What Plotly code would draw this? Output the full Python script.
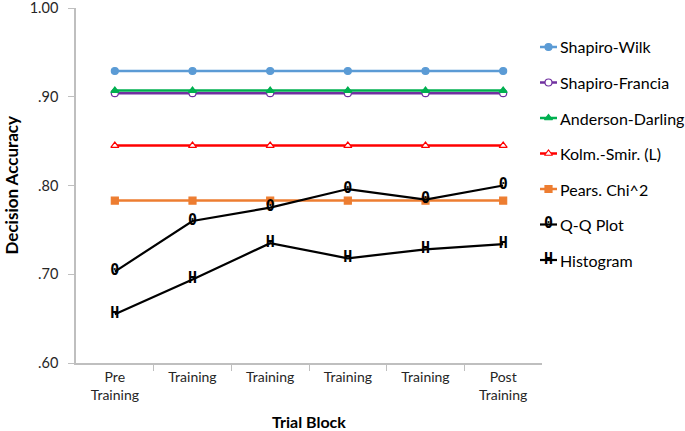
import plotly.graph_objects as go

categories = ["Pre<br>Training", "Training", "Training", "Training", "Training", "Post<br>Training"]
x_pos = [0, 1, 2, 3, 4, 5]

shapiro_wilk = [0.929, 0.929, 0.929, 0.929, 0.929, 0.929]
shapiro_francia = [0.904, 0.904, 0.904, 0.904, 0.904, 0.904]
anderson_darling = [0.907, 0.907, 0.907, 0.907, 0.907, 0.907]
kolm_smir = [0.845, 0.845, 0.845, 0.845, 0.845, 0.845]
pears_chi2 = [0.783, 0.783, 0.783, 0.783, 0.783, 0.783]
qq_plot = [0.703, 0.760, 0.775, 0.796, 0.784, 0.800]
histogram = [0.655, 0.694, 0.735, 0.718, 0.728, 0.734]

y_ticks = [0.6, 0.7, 0.8, 0.9, 1.0]
y_ticktext = [".60", ".70", ".80", ".90", "1.00"]

FONT = "Lato"
W, H = 685, 431
L, R, T, B = 76, 0, 8, 68
PW = W - L - R
PLOT_RIGHT = 542
LEG_X0, LEG_X1, LEG_TX = 540, 557, 558
LEG_Y0, LEG_DY = 47, 35.5

fig = go.Figure()

series = [
    ("Shapiro-Wilk", shapiro_wilk, "#5B9BD5", "circle", None),
    ("Shapiro-Francia", shapiro_francia, "#7030A0", "circle", "white"),
    ("Anderson-Darling", anderson_darling, "#00B050", "triangle-up", None),
    ("Kolm.-Smir. (L)", kolm_smir, "#FF0000", "triangle-up", "white"),
    ("Pears. Chi^2", pears_chi2, "#ED7D31", "square", None),
]
glyph_series = [
    ("Q-Q Plot", qq_plot, "0"),
    ("Histogram", histogram, "H"),
]
glyph_font = dict(family="DejaVu Sans Mono", size=15, color="black", weight="bold")

for name, y, color, symbol, fill in series:
    fig.add_trace(go.Scatter(
        x=x_pos, y=y, name=name, mode="lines+markers", showlegend=False,
        line=dict(color=color, width=2.5),
        marker=dict(symbol=symbol, size=7, color=fill if fill else color,
                    line=dict(color=color, width=1.2)),
    ))
for name, y, glyph in glyph_series:
    fig.add_trace(go.Scatter(
        x=x_pos, y=y, name=name, mode="lines+text", showlegend=False,
        text=[glyph] * len(y), textposition="middle center", textfont=glyph_font,
        line=dict(color="black", width=2.2),
    ))

# manual legend drawn on an auxiliary axis whose y values are pixel rows
annotations = []
for i, (name, y, color, symbol, fill) in enumerate(series):
    yy = LEG_Y0 + LEG_DY * i
    fig.add_trace(go.Scatter(
        x=[0, 1], y=[yy, yy], xaxis="x2", yaxis="y2", mode="lines", showlegend=False,
        line=dict(color=color, width=2.5), hoverinfo="skip"))
    fig.add_trace(go.Scatter(
        x=[0.5], y=[yy], xaxis="x2", yaxis="y2", mode="markers", showlegend=False,
        marker=dict(symbol=symbol, size=7, color=fill if fill else color,
                    line=dict(color=color, width=1.2)), hoverinfo="skip"))
    annotations.append((name, yy))
for j, (name, y, glyph) in enumerate(glyph_series):
    yy = LEG_Y0 + LEG_DY * (len(series) + j)
    fig.add_trace(go.Scatter(
        x=[0, 1], y=[yy, yy], xaxis="x2", yaxis="y2", mode="lines", showlegend=False,
        line=dict(color="black", width=2.2), hoverinfo="skip"))
    fig.add_trace(go.Scatter(
        x=[0.5], y=[yy], xaxis="x2", yaxis="y2", mode="text", showlegend=False,
        text=[glyph], textposition="middle center", textfont=glyph_font, hoverinfo="skip"))
    annotations.append((name, yy))

ann = []
for name, yy in annotations:
    ann.append(dict(text=name, x=(LEG_TX - L) / PW, xref="paper", xanchor="left",
                    y=1 - (yy - T) / (H - T - B), yref="paper", yanchor="middle",
                    showarrow=False, font=dict(family=FONT, size=16, color="black")))
ann.append(dict(text="<b>Trial Block</b>", x=((L + PLOT_RIGHT) / 2 - L) / PW, xref="paper",
                xanchor="center", y=1 - (421 - T) / (H - T - B), yref="paper", yanchor="middle",
                showarrow=False, font=dict(family=FONT, size=16, color="black")))
ann.append(dict(text="<b>Decision Accuracy</b>", x=(11 - L) / PW, xref="paper",
                xanchor="center", y=0.5, yref="paper", yanchor="middle", textangle=-90,
                showarrow=False, font=dict(family=FONT, size=17, color="black")))

fig.update_layout(
    width=W, height=H,
    margin=dict(l=L, r=R, t=T, b=B),
    paper_bgcolor="white", plot_bgcolor="white",
    font=dict(family=FONT, size=14, color="#262626"),
    showlegend=False,
    annotations=ann,
    xaxis=dict(
        domain=[0, (PLOT_RIGHT - L) / PW], automargin=False,
        range=[-0.5, 5.5], tickvals=x_pos, ticktext=categories,
        ticks="", showline=True, linecolor="#BFBFBF", linewidth=1.5,
        showgrid=False, zeroline=False,
        minor=dict(tickvals=[0.5, 1.5, 2.5, 3.5, 4.5], ticks="outside", ticklen=6,
                   tickcolor="#BFBFBF", tickwidth=1, showgrid=False),
        tickfont=dict(family=FONT, size=14, color="#262626"),
    ),
    yaxis=dict(
        automargin=False,
        range=[0.6, 1.0], tickvals=y_ticks, ticktext=y_ticktext,
        ticks="outside", ticklen=6, tickcolor="#BFBFBF", tickwidth=1,
        showline=True, linecolor="#BFBFBF", linewidth=1.5,
        showgrid=False, zeroline=False, ticklabelstandoff=7,
        ticklabeloverflow="allow",
        tickfont=dict(family=FONT, size=14.5, color="#262626"),
    ),
    xaxis2=dict(domain=[(LEG_X0 - L) / PW, (LEG_X1 - L) / PW], range=[0, 1],
                visible=False, anchor="y2", automargin=False, fixedrange=True),
    yaxis2=dict(domain=[0, 1], range=[H - B, T], visible=False, anchor="x2",
                automargin=False, fixedrange=True),
)

fig.write_html("out.html", config={"displayModeBar": False},
               post_script="document.body.style.margin='0';document.body.style.overflow='hidden';")
